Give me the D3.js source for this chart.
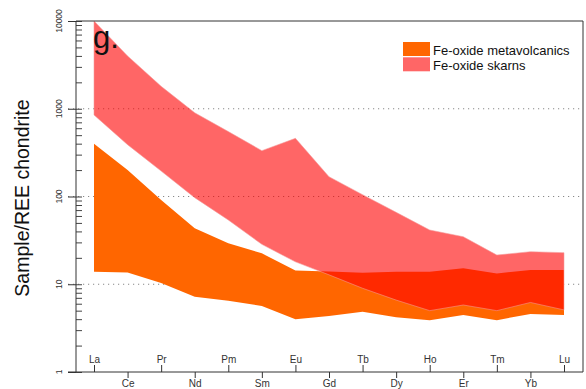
<!DOCTYPE html>
<html>
<head>
<meta charset="utf-8">
<script src="https://cdn.jsdelivr.net/npm/d3@7"></script>
<style>
  body { margin: 0; background: #fff; }
  svg { font-family: "Liberation Sans", Arial, sans-serif; }
</style>
</head>
<body>
<svg id="chart" width="586" height="389"></svg>
<script>
// REE elements along the x axis
const elements = ["La", "Ce", "Pr", "Nd", "Pm", "Sm", "Eu", "Gd", "Tb", "Dy", "Ho", "Er", "Tm", "Yb", "Lu"];

// envelope of Fe-oxide skarns (max / min)
const skarnMax = [10000, 4000, 1800, 900, 550, 333, 460, 168, 105, 66, 41.5, 34.8, 21.5, 23.5, 22.9];
const skarnMin = [850, 390, 195, 97, 54, 28.5, 18, 12.8, 9, 6.6, 5.0, 5.8, 5.0, 6.2, 5.1];

// envelope of Fe-oxide metavolcanics (max / min)
const metaMax = [400, 200, 91, 43.5, 29.3, 22.5, 14.3, 14, 13.5, 13.9, 13.9, 15.2, 13.3, 14.5, 14.5];
const metaMin = [13.9, 13.6, 10.3, 7.2, 6.5, 5.65, 4.0, 4.35, 4.87, 4.2, 3.9, 4.46, 3.9, 4.58, 4.46];

const majorTicks = [1, 10, 100, 1000, 10000];
const gridTicks = [10, 100, 1000];
const legendLabels = ["Fe-oxide metavolcanics", "Fe-oxide skarns"];

const pLeft = 76, pRight = 583, pTop = 21, pBottom = 372;
const svg = d3.select("#chart");

const x = d3.scalePoint().domain(elements).range([94, 564]);
const y = d3.scaleLog().domain([1, 10000]).range([pBottom, pTop]);

// gridlines
svg.append("g")
  .selectAll("line")
  .data(gridTicks)
  .join("line")
  .attr("x1", 68).attr("x2", pRight)
  .attr("y1", d => y(d)).attr("y2", d => y(d))
  .attr("stroke", "#888")
  .attr("stroke-width", 1)
  .attr("stroke-dasharray", "1.2,3.8");

// bands
const area = (hi, lo) => d3.area()
  .x((d, i) => x(elements[i]))
  .y0((d, i) => y(lo[i]))
  .y1((d, i) => y(hi[i]));

svg.append("path")
  .datum(metaMax)
  .attr("d", area(metaMax, metaMin))
  .attr("fill", "#ff6600");

svg.append("path")
  .datum(skarnMax)
  .attr("d", area(skarnMax, skarnMin))
  .attr("fill", "#ff0000")
  .attr("fill-opacity", 0.6)
  .attr("stroke", "#f59a9a")
  .attr("stroke-opacity", 0.7)
  .attr("stroke-width", 0.8);

// left axis: major ticks crossing, minor ticks inward
const minor = [];
for (let p = 1; p < 10000; p *= 10) for (let k = 2; k <= 9; k++) minor.push(p * k);

svg.append("g")
  .attr("transform", `translate(${pLeft},0)`)
  .call(d3.axisLeft(y).tickValues(majorTicks).tickSize(8).tickFormat(""))
  .call(g => g.select(".domain").remove())
  .call(g => g.selectAll("line").attr("stroke", "#333"));

svg.append("g")
  .attr("transform", `translate(${pLeft},0)`)
  .call(d3.axisLeft(y).tickValues(majorTicks.concat(minor)).tickSize(-6).tickFormat(""))
  .call(g => g.select(".domain").remove())
  .call(g => g.selectAll("line").attr("stroke", "#444"));

svg.append("g")
  .selectAll("text")
  .data(majorTicks)
  .join("text")
  .attr("transform", d => `translate(62,${y(d)}) rotate(-90)`)
  .attr("text-anchor", "middle")
  .attr("font-size", 8.5)
  .attr("fill", "#333")
  .text(d => d);

// bottom axis: alternating labels above / below
const upper = elements.filter((d, i) => i % 2 === 0);
const lower = elements.filter((d, i) => i % 2 === 1);

svg.append("g")
  .attr("transform", `translate(0,${pBottom})`)
  .call(d3.axisTop(x).tickValues(upper).tickSize(7).tickPadding(2))
  .call(g => g.select(".domain").remove())
  .call(g => g.selectAll("line").attr("stroke", "#333"))
  .call(g => g.selectAll("text").attr("font-size", 10).attr("fill", "#333").attr("font-family", null));

svg.append("g")
  .attr("transform", `translate(0,${pBottom})`)
  .call(d3.axisBottom(x).tickValues(lower).tickSize(6).tickPadding(2))
  .call(g => g.select(".domain").remove())
  .call(g => g.selectAll("line").attr("stroke", "#333"))
  .call(g => g.selectAll("text").attr("font-size", 10).attr("fill", "#333").attr("font-family", null));

// frame
svg.append("path")
  .attr("d", `M${pLeft},${pBottom}V${pTop}H${pRight}V${pBottom}M68,${pBottom}H${pRight}`)
  .attr("fill", "none")
  .attr("stroke", "#333")
  .attr("stroke-width", 1);

// y title
svg.append("text")
  .attr("transform", `translate(29,198) rotate(-90)`)
  .attr("text-anchor", "middle")
  .attr("font-size", 19.5)
  .attr("fill", "#111")
  .text("Sample/REE chondrite");

// panel label
svg.append("text")
  .attr("x", 93).attr("y", 48)
  .attr("font-size", 31)
  .attr("fill", "#111")
  .text("g.");

// legend
const legendColors = ["#ff6600", "rgba(255,0,0,0.6)"];
const legend = svg.append("g").attr("transform", "translate(403,42)");
legend.selectAll("rect")
  .data(legendLabels)
  .join("rect")
  .attr("x", 0).attr("y", (d, i) => i * 15.3)
  .attr("width", 27).attr("height", 14)
  .attr("fill", (d, i) => legendColors[i]);
legend.selectAll("text")
  .data(legendLabels)
  .join("text")
  .attr("x", 30).attr("y", (d, i) => 13 + i * 15.3)
  .attr("font-size", 13)
  .attr("fill", "#111")
  .text(d => d);
</script>
</body>
</html>
